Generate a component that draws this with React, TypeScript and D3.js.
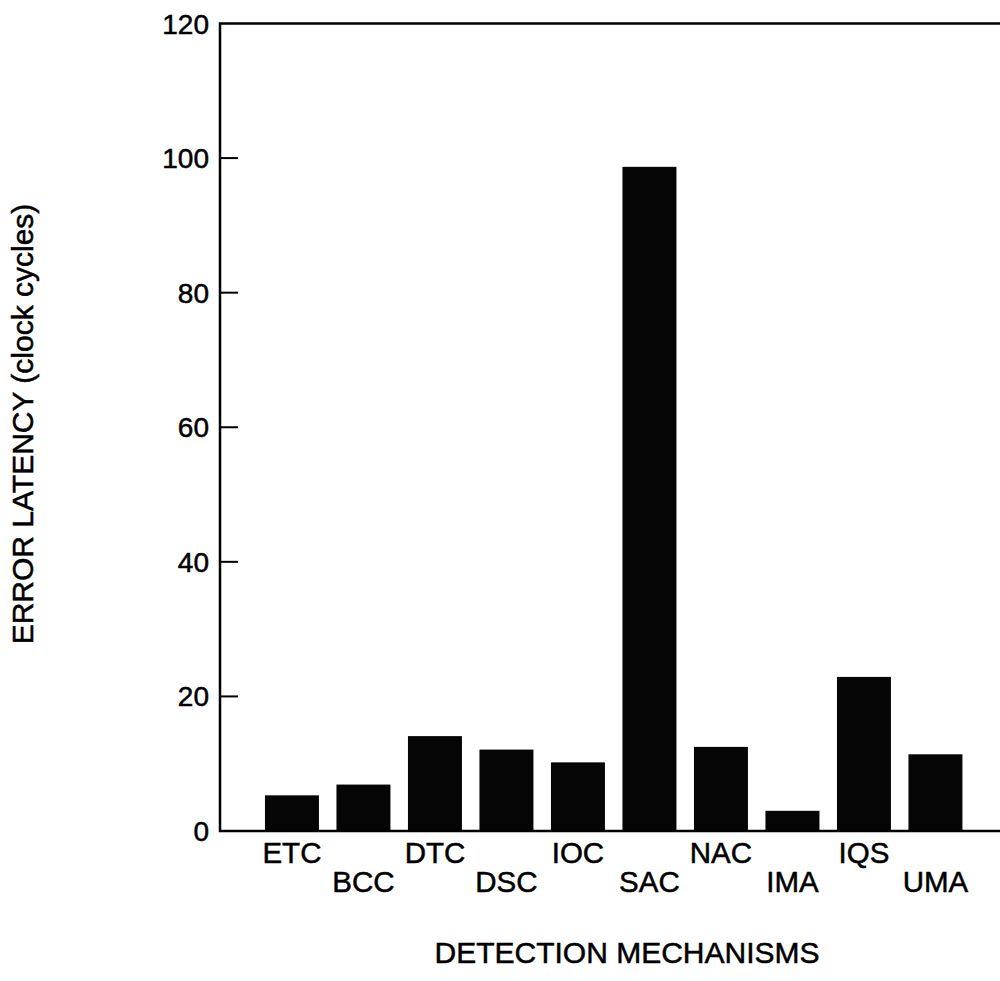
import React from 'react';
import * as d3 from 'd3';

const categories = ['ETC', 'BCC', 'DTC', 'DSC', 'IOC', 'SAC', 'NAC', 'IMA', 'IQS', 'UMA'];
const latency = [5.3, 6.9, 14.1, 12.1, 10.2, 98.7, 12.5, 3.0, 22.9, 11.4];
const yTicks = [0, 20, 40, 60, 80, 100, 120];

const width = 1000, height = 981;
const left = 220, top = 23.5, bottom = 831;
const font = '"Liberation Sans", Arial, Helvetica, sans-serif';

export default function App() {
  const x = d3.scaleBand<string>()
    .domain(categories)
    .range([256.2, 971.2])
    .paddingInner(0.245)
    .paddingOuter(0.1225);

  const y = d3.scaleLinear().domain([0, 120]).range([bottom, top]);

  // scanned text looks a bit heavier than plain regular weight
  const ink = { fill: '#000', stroke: '#000', strokeWidth: 0.5 };

  return (
    <svg width={width} height={height} style={{ position: 'absolute', left: 0, top: 0, background: '#fff' }}>
      {/* bars */}
      {categories.map((c, i) => (
        <rect key={c}
          x={x(c)} y={y(latency[i])}
          width={x.bandwidth()} height={y(0) - y(latency[i])}
          fill="#050505" />
      ))}

      {/* frame: left, top, bottom (right side runs off the page) */}
      <path d={`M${width + 10},${top}H${left}V${bottom}H${width + 10}`}
        fill="none" stroke="#000" strokeWidth={2.5} />

      {/* y ticks, drawn inward */}
      {yTicks.map(t => (
        <g key={t}>
          {t > 0 && t < 120 && (
            <line x1={left} x2={left + 18} y1={y(t)} y2={y(t)} stroke="#000" strokeWidth={2} />
          )}
          <text x={left - 11} y={y(t)} dy="0.36em" textAnchor="end"
            fontFamily={font} fontSize={28} {...ink}>{t}</text>
        </g>
      ))}

      {/* category labels, alternating rows */}
      {categories.map((c, i) => (
        <text key={c} x={x(c)! + x.bandwidth() / 2} y={i % 2 === 0 ? 863 : 892}
          textAnchor="middle" fontFamily={font} fontSize={29.5} {...ink}>{c}</text>
      ))}

      <text x={627} y={963} textAnchor="middle" fontFamily={font} fontSize={30} {...ink}>
        DETECTION MECHANISMS
      </text>

      <text transform={`translate(33,424) rotate(-90)`} textAnchor="middle"
        fontFamily={font} fontSize={30} {...ink}>
        ERROR LATENCY (clock cycles)
      </text>
    </svg>
  );
}
